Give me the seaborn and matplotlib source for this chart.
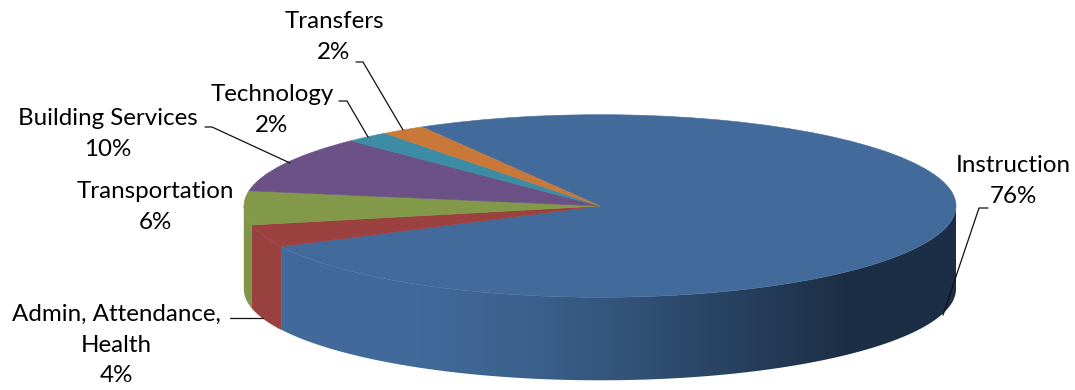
import numpy as np
import matplotlib
matplotlib.use("Agg")
import matplotlib.pyplot as plt
from matplotlib.patches import Polygon
from matplotlib.colors import to_rgb, LinearSegmentedColormap
import seaborn as sns

categories = ["Instruction", "Admin, Attendance,\nHealth", "Transportation",
              "Building Services", "Technology", "Transfers"]
shares = [76, 4, 6, 10, 2, 2]
top_colors = ["#426B9C", "#9B4240", "#83994A", "#6B5186", "#3C8CA5", "#C8793A"]

W, H = 1075, 390
CX, CY, RX, RY, DEPTH = 600.0, 206.0, 356.0, 91.3, 83.0
START = 120.0

sns.set_theme(style="white")
plt.rcParams["font.family"] = ["Lato", "DejaVu Sans"]

fig = plt.figure(figsize=(W / 100, H / 100), dpi=100, facecolor="white")
ax = fig.add_axes([0, 0, 1, 1])


def px(x, y):
    return (x - CX) / RX, (CY - y) / RY


palette = sns.color_palette(top_colors)
ax.pie(shares, colors=palette, startangle=START, counterclock=False, radius=1,
       wedgeprops=dict(linewidth=0.4, zorder=5))
for w, c in zip(ax.patches, palette):
    w.set_edgecolor(c)
ax.set_aspect("auto")
x0, y1 = px(0, 0)
x1, y0 = px(W, H)

# side wall, driven by the same shares as the top
dy = DEPTH / RY
edges = START - np.cumsum([0] + shares) * 3.6
blue_side = LinearSegmentedColormap.from_list(
    "side", [(0, "#426B9C"), (0.25, "#416A9A"), (0.42, "#3A5F8B"),
             (0.585, "#2F4D70"), (0.85, "#1C2E45"), (1, "#1C2E45")])
for i in range(len(shares)):
    a0, a1 = edges[i + 1] % 360, edges[i] % 360
    if a1 <= a0:
        a1 += 360
    for shift in (0, 360):
        lo, hi = max(a0 + shift, 180), min(a1 + shift, 360)
        if hi <= lo:
            continue
        ts = np.radians(np.linspace(lo, hi, int(hi - lo) * 2 + 2))
        upper = np.c_[np.cos(ts), np.sin(ts)]
        lower = (upper - [0, dy])[::-1]
        if i == 0:
            poly = Polygon(np.r_[upper, lower], closed=True, fc="none", ec="none", transform=ax.transData)
            ax.add_patch(poly)
            grad = np.linspace(0, 1, 512)[None, :]
            img = ax.imshow(grad, cmap=blue_side, extent=(-1, 1, -1 - dy - 0.1, 0.1), aspect="auto", zorder=2)
            img.set_clip_path(poly)
        else:
            c = np.array(to_rgb(top_colors[i])) * 0.98
            ax.add_patch(Polygon(np.r_[upper, lower], closed=True, fc=c, ec=c, lw=0.3, zorder=2))

ax.set_xlim(x0, x1)
ax.set_ylim(y0, y1)
ax.axis("off")

FS = 17.4
ls = 1.56
labels = [
    (categories[0] + "\n76%", 1013, 181),
    (categories[1] + "\n4%", 116, 345),
    (categories[2] + "\n6%", 155, 207),
    (categories[3] + "\n10%", 108, 134),
    (categories[4] + "\n2%", 272, 110),
    (categories[5] + "\n2%", 334, 37),
]
for s, x, y in labels:
    ax.text(*px(x, y), s, ha="center", va="center", fontsize=FS, color="black",
            linespacing=ls, zorder=10)

leaders = [
    [(988, 208), (979, 208), (943, 315)],
    [(230, 318), (263, 318)],
    [(205, 127), (212, 127), (290, 163)],
    [(339, 101), (347, 101), (368, 137)],
    [(356, 62), (363, 62), (403, 130)],
]
for pts in leaders:
    xy = np.array([px(*p) for p in pts])
    ax.plot(xy[:, 0], xy[:, 1], color="#111111", lw=0.9, zorder=8)

fig.savefig("out.png", dpi=100, facecolor="white")
